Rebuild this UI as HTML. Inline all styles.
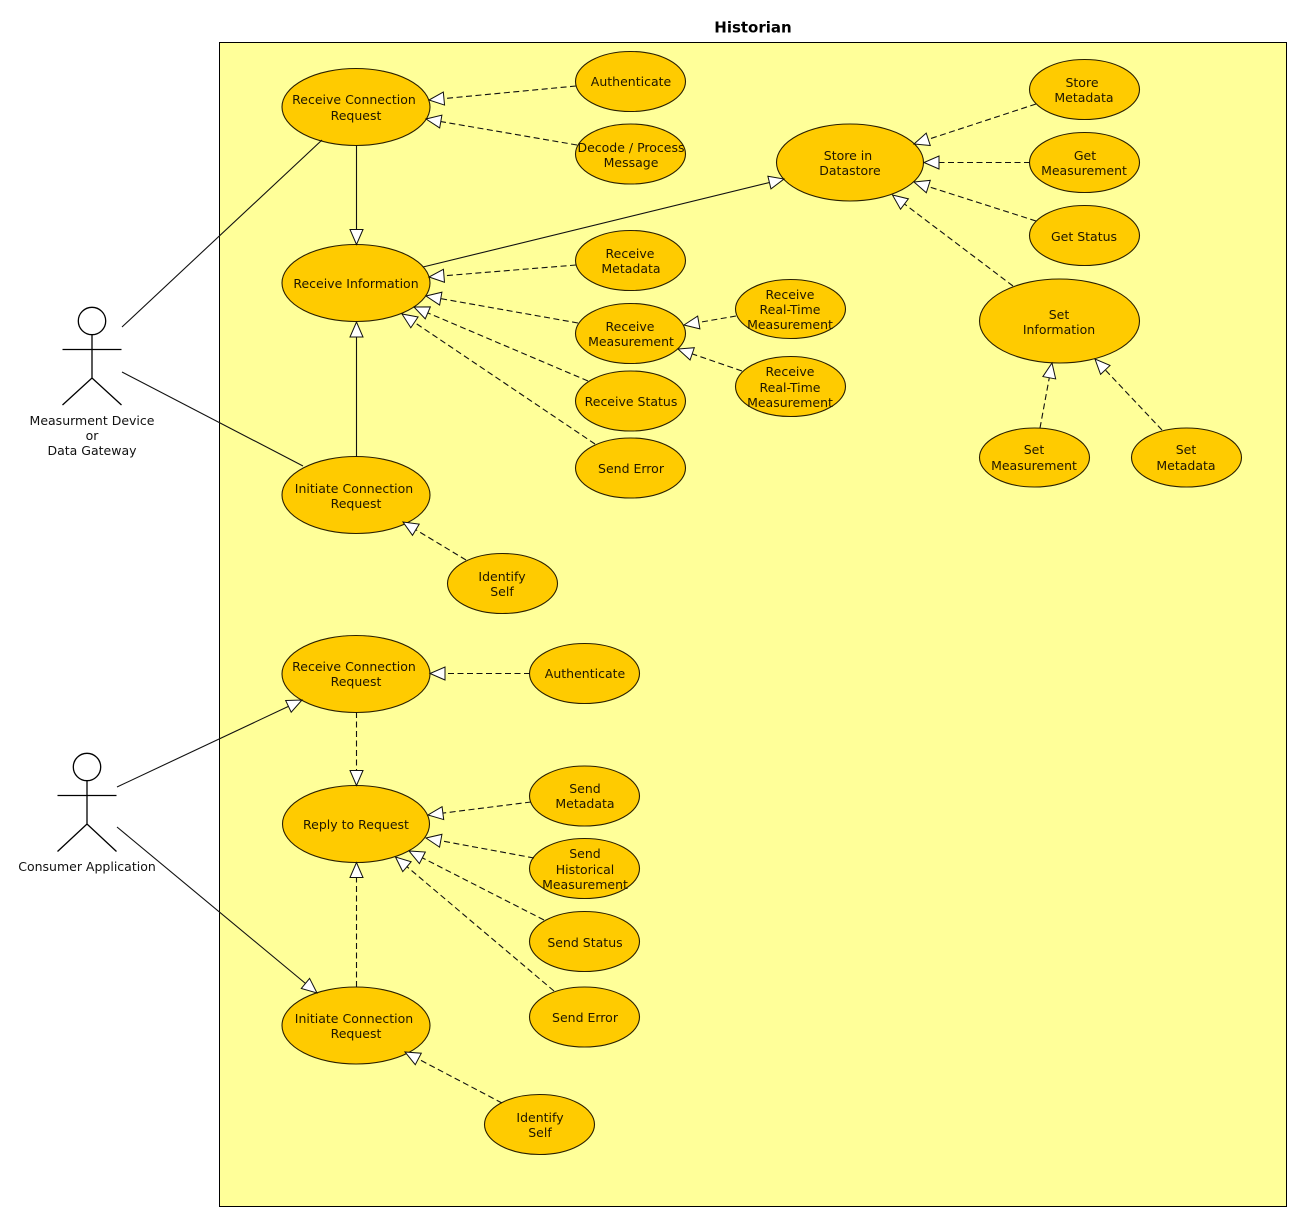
<!DOCTYPE html>
<html><head><meta charset="utf-8"><style>
html,body{margin:0;padding:0;background:#fff}
svg{display:block}
text{font-family:"DejaVu Sans","Liberation Sans",sans-serif;font-size:12.5px;text-anchor:middle;fill:#111}
.t text{fill:#1f1700}
ellipse{fill:#ffcb00;stroke:#2a2000;stroke-width:1.1}
.l line{stroke:#111;stroke-width:1.1;fill:none}
.s line{marker-end:url(#a)}
.d line{stroke-dasharray:6 3.5;marker-end:url(#a)}
.p line{marker-end:none}
.ac *{stroke:#000;stroke-width:1.3;fill:none}
</style></head><body>
<svg width="1302" height="1222" viewBox="0 0 1302 1222" xmlns="http://www.w3.org/2000/svg">
<defs><marker id="a" markerUnits="userSpaceOnUse" markerWidth="17" markerHeight="15" refX="15.5" refY="7" orient="auto" overflow="visible"><path d="M0.5,0.5 L15.5,7 L0.5,13.5 Z" fill="#fff" stroke="#111" stroke-width="1"/></marker></defs>
<rect x="219.5" y="42.5" width="1067" height="1164" fill="#ffff99" stroke="#000" stroke-width="1"/>
<text x="753" y="32.5" style="font-size:15px;font-weight:bold;fill:#000">Historian</text>

<g>
<ellipse cx="356" cy="107" rx="74" ry="38.5"/>
<ellipse cx="356" cy="283" rx="74" ry="38.5"/>
<ellipse cx="356" cy="495" rx="74" ry="38.5"/>
<ellipse cx="630.5" cy="81.5" rx="55" ry="30"/>
<ellipse cx="630.5" cy="154" rx="55" ry="30"/>
<ellipse cx="630.5" cy="260.5" rx="55" ry="30"/>
<ellipse cx="630.5" cy="333.5" rx="55" ry="30"/>
<ellipse cx="630.5" cy="401" rx="55" ry="30"/>
<ellipse cx="630.5" cy="468" rx="55" ry="30"/>
<ellipse cx="790.5" cy="309" rx="55" ry="29.5"/>
<ellipse cx="790.5" cy="386.5" rx="55" ry="30"/>
<ellipse cx="850" cy="162.5" rx="73.5" ry="38.5"/>
<ellipse cx="1084.5" cy="89.5" rx="55" ry="30"/>
<ellipse cx="1084.5" cy="162.5" rx="55" ry="30"/>
<ellipse cx="1084.5" cy="235.5" rx="55" ry="30"/>
<ellipse cx="1059.5" cy="321" rx="80" ry="42"/>
<ellipse cx="1034.5" cy="457.5" rx="55" ry="29.5"/>
<ellipse cx="1186.5" cy="457.5" rx="55" ry="29.5"/>
<ellipse cx="502.5" cy="583.5" rx="55" ry="30"/>
<ellipse cx="356" cy="674" rx="74" ry="38.5"/>
<ellipse cx="584.5" cy="673.5" rx="55" ry="30"/>
<ellipse cx="356" cy="824" rx="73.5" ry="38.5"/>
<ellipse cx="584.5" cy="796" rx="55" ry="30"/>
<ellipse cx="584.5" cy="868.5" rx="55" ry="30"/>
<ellipse cx="584.5" cy="941.5" rx="55" ry="30"/>
<ellipse cx="584.5" cy="1017" rx="55" ry="30"/>
<ellipse cx="356" cy="1025.5" rx="74" ry="38.5"/>
<ellipse cx="539.5" cy="1124.5" rx="55" ry="30"/>
</g>

<g class="l p">
<line x1="122" y1="327" x2="322" y2="140"/>
<line x1="122" y1="372" x2="303" y2="466"/>
</g>
<g class="l s">
<line x1="356.5" y1="145" x2="356.5" y2="244.5"/>
<line x1="423" y1="267" x2="784" y2="179"/>
<line x1="356.5" y1="457" x2="356.5" y2="322"/>
<line x1="117" y1="787" x2="302" y2="700"/>
<line x1="117" y1="827" x2="317" y2="993"/>
</g>
<g class="l d">
<line x1="576" y1="86" x2="429" y2="100"/>
<line x1="577" y1="145" x2="426" y2="119"/>
<line x1="576" y1="265" x2="429" y2="277"/>
<line x1="578" y1="323" x2="426" y2="296"/>
<line x1="588" y1="381" x2="414" y2="307"/>
<line x1="595" y1="444" x2="402" y2="314"/>
<line x1="466" y1="560" x2="403" y2="522"/>
<line x1="736" y1="316" x2="684" y2="325"/>
<line x1="742" y1="371" x2="678" y2="349"/>
<line x1="1036" y1="104" x2="914" y2="144"/>
<line x1="1030" y1="162.5" x2="924" y2="162.5"/>
<line x1="1036" y1="221" x2="914" y2="182"/>
<line x1="1013" y1="286" x2="892.5" y2="195"/>
<line x1="1040" y1="428" x2="1052" y2="363"/>
<line x1="1162" y1="430" x2="1095" y2="359"/>
<line x1="530" y1="673.5" x2="430" y2="673.5"/>
<line x1="356.5" y1="712" x2="356.5" y2="785.5"/>
<line x1="531" y1="802" x2="428" y2="815"/>
<line x1="534" y1="858" x2="426" y2="838"/>
<line x1="544" y1="920" x2="409" y2="851"/>
<line x1="554" y1="991" x2="395.5" y2="857"/>
<line x1="356.5" y1="987" x2="356.5" y2="862.5"/>
<line x1="502" y1="1103" x2="405" y2="1052"/>
</g>

<g class="ac">
<circle cx="92" cy="321" r="13.7"/>
<path d="M92,335V378M62.5,349.5H121.5M62.5,405L92,378L121.5,405"/>
<circle cx="87" cy="767" r="13.7"/>
<path d="M87,781V824M57.5,795.5H116.5M57.5,851.5L87,824L116.5,851.5"/>
</g>

<text x="92" y="425">Measurment Device</text>
<text x="92" y="440">or</text>
<text x="92" y="455">Data Gateway</text>
<text x="87" y="871">Consumer Application</text>

<g class="t">
<text x="354" y="104">Receive Connection</text><text x="356" y="120">Request</text>
<text x="356" y="288">Receive Information</text>
<text x="354" y="493">Initiate Connection</text><text x="356" y="508">Request</text>
<text x="631" y="86">Authenticate</text>
<text x="631" y="152">Decode / Process</text><text x="631" y="167">Message</text>
<text x="630" y="258">Receive</text><text x="631" y="273">Metadata</text>
<text x="630" y="331">Receive</text><text x="631" y="346">Measurement</text>
<text x="631" y="406">Receive Status</text>
<text x="631" y="473">Send Error</text>
<text x="790" y="299">Receive</text><text x="790" y="314">Real-Time</text><text x="790" y="329">Measurement</text>
<text x="790" y="376">Receive</text><text x="790" y="392">Real-Time</text><text x="790" y="407">Measurement</text>
<text x="848" y="160">Store in</text><text x="850" y="175">Datastore</text>
<text x="1082" y="87">Store</text><text x="1084" y="102">Metadata</text>
<text x="1085" y="160">Get</text><text x="1084" y="175">Measurement</text>
<text x="1084" y="241">Get Status</text>
<text x="1059" y="319">Set</text><text x="1059" y="334">Information</text>
<text x="1034" y="454">Set</text><text x="1034" y="470">Measurement</text>
<text x="1186" y="454">Set</text><text x="1186" y="470">Metadata</text>
<text x="502" y="581">Identify</text><text x="502" y="596">Self</text>
<text x="354" y="671">Receive Connection</text><text x="356" y="686">Request</text>
<text x="585" y="678">Authenticate</text>
<text x="356" y="829">Reply to Request</text>
<text x="585" y="793">Send</text><text x="585" y="808">Metadata</text>
<text x="585" y="858">Send</text><text x="585" y="874">Historical</text><text x="585" y="889">Measurement</text>
<text x="585" y="947">Send Status</text>
<text x="585" y="1022">Send Error</text>
<text x="354" y="1023">Initiate Connection</text><text x="356" y="1038">Request</text>
<text x="540" y="1122">Identify</text><text x="540" y="1137">Self</text>
</g>
</svg>
</body></html>
